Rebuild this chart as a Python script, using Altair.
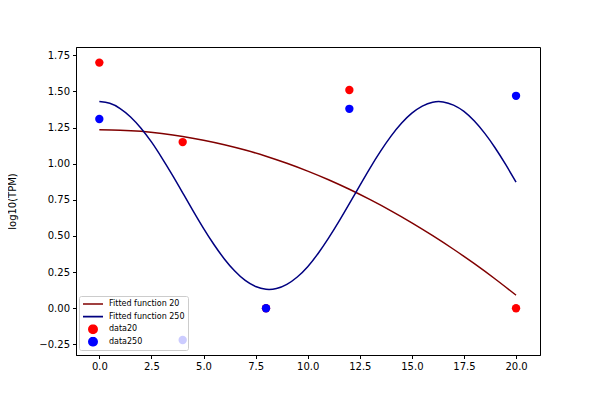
import altair as alt
import pandas as pd

# fitted curves
fit20_x = list(range(21))
fit20 = [1.235, 1.232, 1.224, 1.209, 1.189, 1.163, 1.132, 1.095, 1.052, 1.003, 0.949,
         0.889, 0.823, 0.751, 0.674, 0.591, 0.502, 0.408, 0.308, 0.202, 0.09]
fit250_x = [i * 0.5 for i in range(41)]
fit250 = [1.430, 1.418, 1.382, 1.324, 1.246, 1.151, 1.041, 0.923, 0.799, 0.674,
          0.553, 0.441, 0.341, 0.257, 0.192, 0.150, 0.131, 0.136, 0.165, 0.216,
          0.287, 0.379, 0.485, 0.601, 0.724, 0.849, 0.972, 1.087, 1.191, 1.280,
          1.350, 1.399, 1.426, 1.428, 1.406, 1.362, 1.295, 1.210, 1.109, 0.995, 0.873]

# measured points
data_x = [0, 4, 8, 12, 20]
data20 = [1.70, 1.15, 0.0, 1.51, 0.0]
data250 = [1.31, -0.22, 0.0, 1.38, 1.47]

series = ["Fitted function 20", "Fitted function 250", "data20", "data250"]
colors = ["#800000", "#000080", "#ff0000", "#0000ff"]
shapes = ["stroke", "stroke", "circle", "circle"]
sizes = [400, 400, 70, 70]

lines_df = pd.DataFrame({
    "x": fit20_x + fit250_x,
    "y": fit20 + fit250,
    "series": [series[0]] * len(fit20_x) + [series[1]] * len(fit250_x),
})
points_df = pd.DataFrame({
    "x": data_x + data_x,
    "y": data20 + data250,
    "series": [series[2]] * len(data_x) + [series[3]] * len(data_x),
})

x_ticks = [0, 2.5, 5, 7.5, 10, 12.5, 15, 17.5, 20]
y_ticks = [-0.25, 0, 0.25, 0.5, 0.75, 1.0, 1.25, 1.5, 1.75]

x_enc = alt.X("x:Q", scale=alt.Scale(domain=[-1.12, 21.15], nice=False, zero=False),
              axis=alt.Axis(values=x_ticks, format=".1f", title=None))
y_enc = alt.Y("y:Q", scale=alt.Scale(domain=[-0.324, 1.808], nice=False, zero=False),
              axis=alt.Axis(values=y_ticks, format=".2f", title="log10(TPM)", titlePadding=21))

legend = alt.Legend(
    title=None, orient="none", legendX=3, legendY=249,
    fillColor="rgba(255,255,255,0.8)", strokeColor="#cccccc", cornerRadius=2,
    padding=3, labelFontSize=8, labelFont="DejaVu Sans",
    rowPadding=2.6, clipHeight=10, symbolStrokeWidth=1.6, labelOffset=5,
)
color = alt.Color("series:N", scale=alt.Scale(domain=series, range=colors), legend=legend)
shape = alt.Shape("series:N", scale=alt.Scale(domain=series, range=shapes), legend=legend)
size = alt.Size("series:N", scale=alt.Scale(type="ordinal", domain=series, range=sizes),
                legend=legend)

lines = alt.Chart(lines_df).mark_line(strokeWidth=1.5, interpolate="natural").encode(
    x=x_enc, y=y_enc, color=color, detail="series:N"
)
points = alt.Chart(points_df).mark_point(filled=True, opacity=1).encode(
    x=x_enc, y=y_enc, color=color, shape=shape, size=size
)

chart = alt.layer(lines, points).properties(
    width=464, height=308,
    autosize=alt.AutoSizeParams(type="none"),
    padding={"left": 68, "top": 39, "right": 50, "bottom": 35},
).configure_view(stroke="black", strokeWidth=1).configure_axis(
    labelFont="DejaVu Sans", titleFont="DejaVu Sans", labelFontSize=10, titleFontSize=10,
    titleFontWeight="normal", labelColor="black", titleColor="black",
    domainColor="black", tickColor="black", tickSize=3.5, labelPadding=3, grid=False,
)

chart.save("out.html", embed_options={"renderer": "svg", "actions": False})
